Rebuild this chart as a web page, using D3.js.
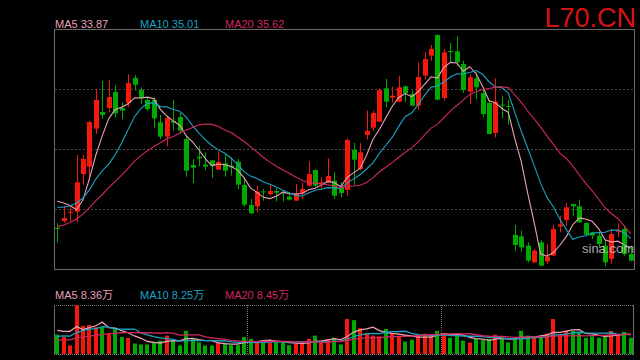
<!DOCTYPE html>
<html>
<head>
<meta charset="utf-8">
<script src="https://cdn.jsdelivr.net/npm/d3@7"></script>
<style>
  body { margin: 0; background: #000; }
  svg { display: block; font-family: "Liberation Sans", Arial, "Noto Sans CJK SC", sans-serif; }
</style>
</head>
<body>
<div id="chart"></div>
<script>
/* DATA */
const title = "L70.CN"
const open  = [36.85,38.00,39.47,39.56,45.83,47.06,53.39,56.17,56.83,59.50,
               56.83,57.67,61.83,59.83,58.17,58.22,54.44,52.06,54.67,55.33,
               51.67,47.33,48.72,47.39,48.11,46.56,47.61,47.22,47.89,44.00,
               40.67,40.44,42.94,42.50,43.00,42.78,42.06,41.39,42.61,43.89,
               46.50,44.28,44.44,44.72,43.61,43.17,49.83,46.67,52.33,53.56,
               54.56,60.11,58.56,57.89,60.44,59.17,57.22,62.22,65.56,69.00,
               58.50,66.33,66.28,64.17,59.56,61.78,59.33,57.67,52.67,57.39,
               57.17,35.67,35.44,33.89,31.11,34.44,31.28,32.22,37.06,38.17,
               40.83,40.44,37.67,36.11,35.56,33.89,31.67,36.22,36.67,32.50]
const high  = [37.61,40.56,40.56,49.00,49.00,54.72,60.00,61.33,61.50,60.56,
               57.78,62.44,62.33,60.28,58.61,58.61,55.67,55.44,58.17,56.11,
               52.22,48.33,50.56,49.44,48.17,49.67,49.17,48.61,48.33,45.00,
               41.67,43.89,43.33,44.06,43.44,43.17,42.89,44.17,44.44,47.94,
               46.61,45.28,48.44,46.11,44.44,51.83,51.00,51.00,56.39,56.39,
               60.11,61.67,60.44,62.17,60.56,59.72,64.44,66.11,67.33,69.11,
               66.67,67.67,68.78,64.72,62.50,62.78,60.00,58.06,61.78,58.89,
               58.17,37.33,36.39,34.44,33.33,34.83,34.17,37.33,38.89,41.00,
               40.89,41.56,37.78,36.22,36.11,34.83,36.67,37.61,37.22,33.89]
const low   = [34.44,37.67,37.94,37.78,44.06,44.72,52.50,55.00,56.11,55.28,
               54.94,56.94,59.72,57.50,56.33,53.50,51.67,50.44,53.06,52.50,
               45.39,44.33,47.11,46.50,45.17,46.50,45.39,45.56,43.33,40.39,
               39.17,39.44,41.39,42.22,41.28,41.22,41.39,41.39,41.67,43.67,
               43.72,43.33,44.33,41.67,41.94,42.22,44.00,46.44,51.56,53.00,
               54.44,56.89,57.78,57.78,57.89,57.11,56.50,61.56,64.72,58.11,
               58.06,64.44,63.89,59.33,57.50,58.33,55.28,52.44,51.94,55.11,
               54.06,33.06,32.89,31.11,31.00,30.44,30.83,32.11,36.11,37.22,
               38.89,37.67,35.56,35.00,33.61,30.44,30.83,35.28,32.22,31.28]
const close = [36.80,38.50,39.56,44.44,48.33,54.50,58.17,55.67,58.67,55.94,
               56.39,61.00,60.72,58.44,56.67,55.11,52.06,55.17,54.39,53.06,
               46.39,46.89,48.44,47.06,47.22,47.83,46.39,46.94,44.06,40.72,
               39.28,42.89,42.78,43.00,42.72,42.67,41.56,42.61,43.33,45.83,
               43.89,44.44,45.50,42.22,42.67,51.50,48.22,49.44,53.00,56.00,
               59.83,57.89,58.89,60.28,59.28,57.22,62.00,65.00,66.67,58.22,
               66.11,66.22,64.44,59.83,61.94,60.28,55.83,52.50,57.89,57.22,
               57.00,34.00,33.61,31.39,33.06,30.56,32.06,36.67,37.44,40.28,
               40.44,37.78,35.72,35.56,34.17,31.11,35.83,36.50,32.50,31.39]
// volume in 万
const volume = [8.1,7.1,3.6,20.4,11.8,12.2,11.2,11.2,8.8,10.8,
                7.1,6.7,4.4,4.0,4.0,5.1,5.6,7.7,5.6,3.6,
                9.7,6.3,4.9,3.6,3.6,4.9,4.7,3.7,3.7,7.1,
                6.3,5.3,5.6,4.7,5.3,4.7,3.7,4.2,4.2,6.4,
                7.7,4.9,6.3,6.8,4.0,14.7,14.2,10.8,8.8,7.7,
                7.4,10.5,8.8,7.4,5.2,6.0,8.1,8.5,7.4,9.7,
                8.8,6.8,8.8,5.6,4.8,6.3,5.8,6.3,8.1,6.3,
                4.8,6.3,9.7,7.7,7.1,7.1,8.5,14.7,8.1,9.7,
                9.7,8.8,6.8,7.4,6.8,7.4,9.7,8.1,9.3,6.8]
// days before the first visible one, only used to start the moving averages
const prevClose  = [33.1,31.5,32.6,32.0,32.8,34.8,35.2,35.6,35.0,35.8,
                    38.5,36.8,40.0,40.0,41.0,40.0,41.6,48.0,40.1]
const prevVolume = [4.0,4.5,3.8,4.2,4.6,3.9,4.4,4.1,4.3,4.2,
                    5.0,4.5,5.5,4.2,5.3,9.3,3.4,10.4,18.3]

const maPeriods = [5, 10, 20]
const maLabels  = ["MA5 33.87", "MA10 35.01", "MA20 35.62"]
const volLabels = ["MA5 8.36万", "MA10 8.25万", "MA20 8.45万"]
const gridPrices = [40, 50, 60]
const monthStarts = [30, 60]

/* CONSTANTS */
const width = 640, height = 360
const main = {left: 54, right: 634, top: 29, bottom: 269}
const vol  = {top: 305, bottom: 354}
const upColor = "#f5180c", downColor = "#00aa00"
const maColors = ["#e9a2b6", "#1ba3c4", "#d1285f"]

const svg = d3.select("#chart").append("svg")
  .attr("width", width).attr("height", height)
svg.append("rect").attr("width", width).attr("height", height).attr("fill", "#000")

const n = close.length
const xScale = d3.scalePoint()
  .domain(d3.range(n))
  .range([main.left, main.right])
  .padding(0.5)
const step = xScale.step()
const cx = i => Math.round(xScale(i))

const yScale = d3.scaleLinear().domain([30, 70]).range([main.bottom, main.top])
const vScale = d3.scaleLinear().domain([0, 20.55]).range([vol.bottom, vol.top])

function movingAvg(values, prev, p) {
  const all = prev.concat(values)
  return values.map((_, i) => d3.mean(all.slice(i + prev.length - p + 1, i + prev.length + 1)))
}

// MAIN PANEL frame + grid
svg.append("g").selectAll("line")
  .data(gridPrices)
  .join("line")
    .attr("x1", main.left + 1).attr("x2", main.right)
    .attr("y1", d => Math.round(yScale(d)) + 0.5)
    .attr("y2", d => Math.round(yScale(d)) + 0.5)
    .attr("stroke", "#4a4a4a")
    .attr("stroke-dasharray", "2,2")

svg.append("rect")
  .attr("x", main.left + 0.5).attr("y", main.top + 0.5)
  .attr("width", main.right - main.left).attr("height", main.bottom - main.top)
  .attr("fill", "none").attr("stroke", "#6a6a6a")

// CANDLES
const days = d3.range(n)
const isUp = i => close[i] >= open[i]

const candles = svg.append("g")
candles.selectAll("line")
  .data(days)
  .join("line")
    .attr("x1", i => cx(i) + 0.5).attr("x2", i => cx(i) + 0.5)
    .attr("y1", i => yScale(high[i])).attr("y2", i => yScale(low[i]))
    .attr("stroke", i => isUp(i) ? upColor : downColor)

candles.selectAll("rect")
  .data(days)
  .join("rect")
    .attr("x", i => cx(i) - 2)
    .attr("width", 5)
    .attr("y", i => yScale(Math.max(open[i], close[i])))
    .attr("height", i => Math.max(1, Math.abs(yScale(open[i]) - yScale(close[i]))))
    .attr("fill", i => isUp(i) ? upColor : downColor)

// MA LINES
const priceLine = d3.line().x((d, i) => xScale(i)).y(d => yScale(d))
maPeriods.forEach((p, k) => {
  svg.append("path")
    .attr("d", priceLine(movingAvg(close, prevClose, p)))
    .attr("fill", "none")
    .attr("stroke", maColors[k])
    .attr("stroke-width", 1.1)
})

// LEGENDS
svg.append("g").selectAll("text")
  .data(maLabels)
  .join("text")
    .attr("x", (d, i) => 55 + i * 85).attr("y", 28)
    .attr("font-size", 11)
    .attr("fill", (d, i) => maColors[i])
    .text(d => d)

svg.append("text")
  .attr("x", 636).attr("y", 27)
  .attr("text-anchor", "end")
  .attr("font-size", 27)
  .attr("fill", "#d81212")
  .text(title)

svg.append("text")
  .attr("x", 582).attr("y", 253)
  .attr("font-size", 13)
  .attr("fill", "#c8c8c8")
  .attr("opacity", 0.85)
  .text("sina.com")

// VOLUME PANEL
const vg = svg.append("g")
vg.selectAll("line.h")
  .data([vol.top, vol.bottom])
  .join("line")
    .attr("class", "h")
    .attr("x1", main.left).attr("x2", main.right)
    .attr("y1", d => d + 0.5).attr("y2", d => d + 0.5)
    .attr("stroke", "#7a7a7a")
    .attr("stroke-dasharray", "1,1")
vg.selectAll("line.v")
  .data([main.left, main.right - 1])
  .join("line")
    .attr("class", "v")
    .attr("x1", d => d + 0.5).attr("x2", d => d + 0.5)
    .attr("y1", vol.top).attr("y2", vol.bottom + 1)
    .attr("stroke", "#6a6a6a")
vg.selectAll("line.m")
  .data(monthStarts)
  .join("line")
    .attr("class", "m")
    .attr("x1", i => Math.round(xScale(i) - step / 2) + 0.5)
    .attr("x2", i => Math.round(xScale(i) - step / 2) + 0.5)
    .attr("y1", vol.top).attr("y2", vol.bottom)
    .attr("stroke", "#7a7a7a")
    .attr("stroke-dasharray", "1,1")

vg.selectAll("rect")
  .data(days)
  .join("rect")
    .attr("x", i => cx(i) - 2)
    .attr("width", 4)
    .attr("y", i => vScale(volume[i]))
    .attr("height", i => vol.bottom - vScale(volume[i]))
    .attr("fill", i => isUp(i) ? upColor : downColor)

const volLine = d3.line().x((d, i) => xScale(i)).y(d => vScale(d))
maPeriods.forEach((p, k) => {
  vg.append("path")
    .attr("d", volLine(movingAvg(volume, prevVolume, p)))
    .attr("fill", "none")
    .attr("stroke", maColors[k])
    .attr("stroke-width", 1.3)
})

svg.append("g").selectAll("text")
  .data(volLabels)
  .join("text")
    .attr("x", (d, i) => 55 + i * 85).attr("y", 299)
    .attr("font-size", 11)
    .attr("fill", (d, i) => maColors[i])
    .text(d => d)
</script>
</body>
</html>
